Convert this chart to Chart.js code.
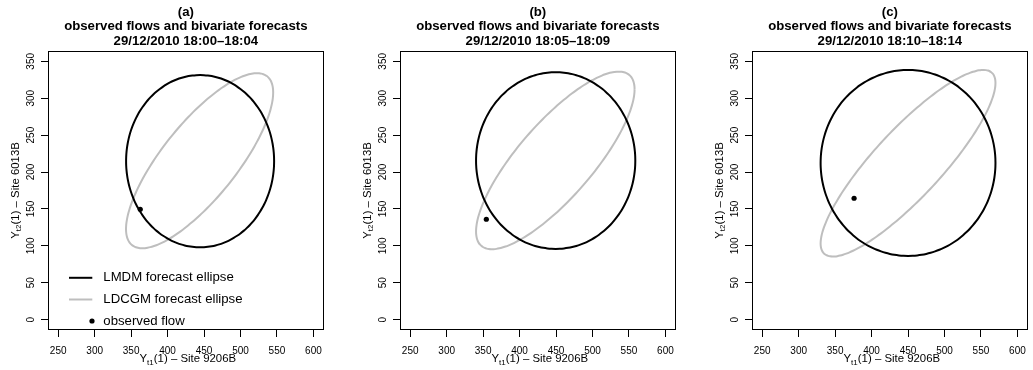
<!DOCTYPE html>
<html><head><meta charset="utf-8">
<script src="https://cdn.jsdelivr.net/npm/chart.js@4.4.1/dist/chart.umd.min.js"></script>
<style>
html,body{margin:0;padding:0;background:#fff;overflow:hidden;}
#wrap{position:relative;width:1033px;height:370px;}
.panel{position:absolute;top:0;width:330px;height:370px;}
</style></head><body>
<div id="wrap">
<div class="panel" style="left:0px"><canvas id="c0" width="330" height="370"></canvas></div>
<div class="panel" style="left:352px"><canvas id="c1" width="330" height="370"></canvas></div>
<div class="panel" style="left:704px"><canvas id="c2" width="330" height="370"></canvas></div>
</div>
<script>
const FONT = '"Liberation Sans", Arial, Helvetica, sans-serif';

// ---- data ----
const panelLabels = ['(a)', '(b)', '(c)'];
const titleText = 'observed flows and bivariate forecasts';
const periods = ['29/12/2010 18:00\u201318:04', '29/12/2010 18:05\u201318:09', '29/12/2010 18:10\u201318:14'];
const xTicks = [250, 300, 350, 400, 450, 500, 550, 600];
const yTicks = [0, 50, 100, 150, 200, 250, 300, 350];
const xRange = [236, 614];
const yRange = [-14, 364];
const xTitleParts = ['Y', 't1', '(1) \u2013 Site 9206B'];
const yTitleParts = ['Y', 't2', '(1) \u2013 Site 6013B'];
const legendLabels = ['LMDM forecast ellipse', 'LDCGM forecast ellipse', 'observed flow'];

// LMDM forecast ellipse (black): centre, half-extents, correlation
const lmdmCenterX = [444.6, 449.5, 450.0];
const lmdmCenterY = [214.7, 215.5, 212.3];
const lmdmHalfX   = [101.5, 109.2, 119.9];
const lmdmHalfY   = [116.7, 119.7, 126.0];
const lmdmRho     = [0, 0, 0];

// LDCGM forecast ellipse (grey)
const ldcgmCenterX = [443.9, 449.0, 450.0];
const ldcgmCenterY = [215.3, 215.7, 211.9];
const ldcgmHalfX   = [100.9, 108.7, 119.9];
const ldcgmHalfY   = [118.6, 120.3, 126.4];
const ldcgmRho     = [0.78, 0.80, 0.86];

// observed flows
const obsX = [362.5, 354.4, 376.0];
const obsY = [149.6, 136.0, 164.5];

// ---- helpers ----
function ellipsePoints(cx, cy, hx, hy, rho, n) {
  const d = Math.acos(rho);
  const pts = [];
  for (let i = 0; i <= n; i++) {
    const t = 2 * Math.PI * i / n;
    pts.push({x: cx + hx * Math.cos(t), y: cy + hy * Math.cos(t + d)});
  }
  return pts;
}

function drawSubText(ctx, parts, size) {
  const mainF = size + 'px ' + FONT;
  const subF = (size * 0.7).toFixed(1) + 'px ' + FONT;
  ctx.font = mainF; const w0 = ctx.measureText(parts[0]).width;
  const w2 = ctx.measureText(parts[2]).width;
  ctx.font = subF; const w1 = ctx.measureText(parts[1]).width;
  let x = -(w0 + w1 + w2) / 2;
  ctx.textAlign = 'left'; ctx.textBaseline = 'alphabetic';
  ctx.font = mainF; ctx.fillText(parts[0], x, 0); x += w0;
  ctx.font = subF; ctx.fillText(parts[1], x, 2.5); x += w1;
  ctx.font = mainF; ctx.fillText(parts[2], x, 0);
}

const boxPlugin = {
  id: 'rbox',
  afterDraw(chart) {
    const {ctx, chartArea: a} = chart;
    ctx.save();
    ctx.strokeStyle = '#000'; ctx.lineWidth = 1;
    ctx.strokeRect(Math.round(a.left) + 0.5, Math.round(a.top) + 0.5,
                   Math.round(a.right - a.left) - 1, Math.round(a.bottom - a.top) - 1);
    ctx.fillStyle = '#000';
    ctx.save();
    ctx.translate((a.left + a.right) / 2 + 2, 362);
    drawSubText(ctx, xTitleParts, 11.4);
    ctx.restore();
    ctx.save();
    ctx.translate(18.5, (a.top + a.bottom) / 2);
    ctx.rotate(-Math.PI / 2);
    drawSubText(ctx, yTitleParts, 11.4);
    ctx.restore();
    ctx.restore();
  }
};

const legendPlugin = {
  id: 'rlegend',
  afterDraw(chart) {
    const ctx = chart.ctx;
    const rows = [277.8, 299.5, 321];
    ctx.save();
    ctx.lineWidth = 2;
    ctx.strokeStyle = '#000';
    ctx.beginPath(); ctx.moveTo(69, rows[0]); ctx.lineTo(92.3, rows[0]); ctx.stroke();
    ctx.strokeStyle = '#BEBEBE';
    ctx.beginPath(); ctx.moveTo(69, rows[1]); ctx.lineTo(92.3, rows[1]); ctx.stroke();
    ctx.fillStyle = '#000';
    ctx.beginPath(); ctx.arc(92, rows[2], 2.6, 0, 2 * Math.PI); ctx.fill();
    ctx.font = '13.2px ' + FONT;
    ctx.textAlign = 'left'; ctx.textBaseline = 'middle';
    legendLabels.forEach((l, i) => ctx.fillText(l, 103.3, rows[i]));
    ctx.restore();
  }
};

function makeChart(i) {
  const plugins = [boxPlugin];
  if (i === 0) plugins.push(legendPlugin);
  return new Chart(document.getElementById('c' + i), {
    type: 'scatter',
    data: {
      datasets: [
        {
          label: legendLabels[2],
          data: [{x: obsX[i], y: obsY[i]}],
          pointRadius: 2.6, pointBackgroundColor: '#000', pointBorderWidth: 0,
          showLine: false
        },
        {
          label: legendLabels[0],
          data: ellipsePoints(lmdmCenterX[i], lmdmCenterY[i], lmdmHalfX[i], lmdmHalfY[i], lmdmRho[i], 120),
          showLine: true, borderColor: '#000', borderWidth: 2, pointRadius: 0, fill: false, tension: 0.3
        },
        {
          label: legendLabels[1],
          data: ellipsePoints(ldcgmCenterX[i], ldcgmCenterY[i], ldcgmHalfX[i], ldcgmHalfY[i], ldcgmRho[i], 120),
          showLine: true, borderColor: '#BEBEBE', borderWidth: 2, pointRadius: 0, fill: false, tension: 0.3
        }
      ]
    },
    options: {
      responsive: false, animation: false, devicePixelRatio: 1,
      layout: {padding: {top: 0, right: 2, left: 0, bottom: 0}},
      plugins: {
        legend: {display: false},
        tooltip: {enabled: false},
        title: {
          display: true, fullSize: false,
          text: [panelLabels[i], titleText, periods[i]],
          color: '#000',
          font: {family: FONT, size: 13.2, weight: 'bold', lineHeight: 1.1},
          padding: {top: 5, bottom: 2.4}
        }
      },
      scales: {
        x: {
          type: 'linear', min: xRange[0], max: xRange[1],
          afterBuildTicks: s => { s.ticks = xTicks.map(v => ({value: v})); },
          afterFit: s => { s.height = 40; },
          grid: {drawOnChartArea: false, drawTicks: true, tickLength: 7, color: '#000', lineWidth: 1},
          border: {display: false},
          ticks: {color: '#000', font: {family: FONT, size: 10}, padding: 8, minRotation: 0, maxRotation: 0, autoSkip: false}
        },
        y: {
          type: 'linear', min: yRange[0], max: yRange[1],
          afterBuildTicks: s => { s.ticks = yTicks.map(v => ({value: v})); },
          afterFit: s => { s.width = 48; },
          grid: {drawOnChartArea: false, drawTicks: true, tickLength: 7, color: '#000', lineWidth: 1},
          border: {display: false},
          ticks: {color: '#000', font: {family: FONT, size: 10}, padding: 1.5, minRotation: 90, maxRotation: 90, crossAlign: 'center', autoSkip: false}
        }
      }
    },
    plugins: plugins
  });
}
[0, 1, 2].forEach(makeChart);
</script>
</body></html>
